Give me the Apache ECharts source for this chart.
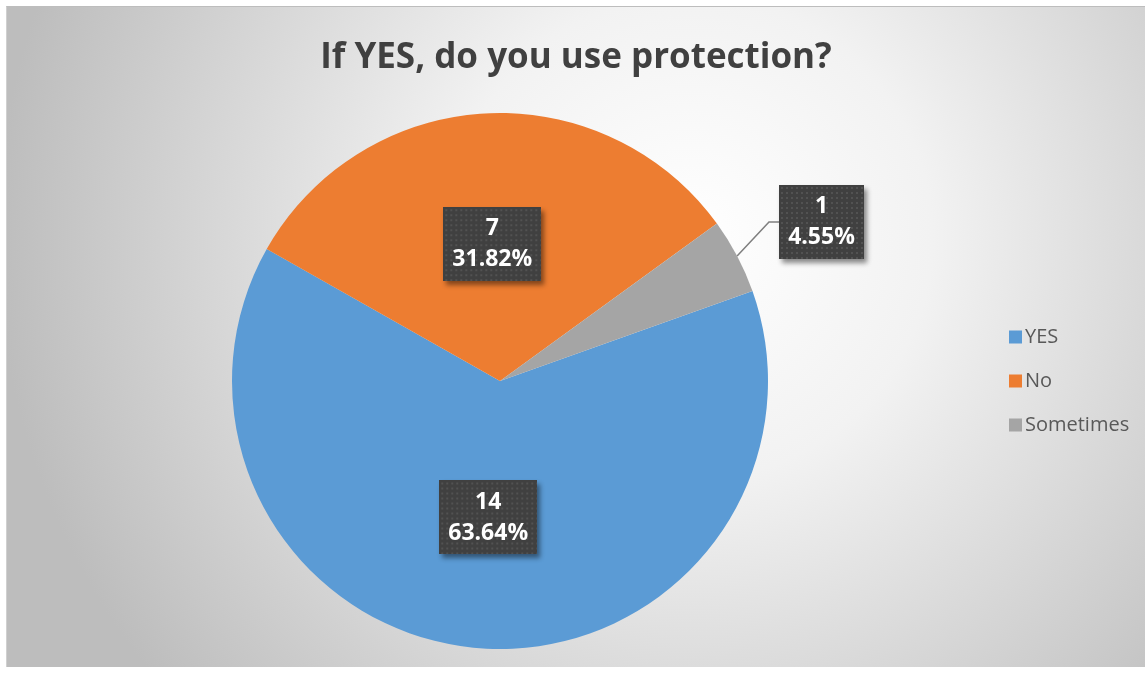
<!DOCTYPE html>
<html>
<head>
<meta charset="utf-8">
<script src="https://cdn.jsdelivr.net/npm/echarts@6/dist/echarts.min.js"></script>
<style>
  html, body { margin: 0; padding: 0; background: #ffffff; width: 1145px; height: 673px; overflow: hidden; }
  #chart { position: absolute; left: 6px; top: 6px; width: 1139px; height: 661px;
           border-top: 1px solid #bdbdbd; border-left: 1px solid #d0d0d0; box-sizing: border-box; }
</style>
</head>
<body>
<div id="chart"></div>
<script>
// Survey answers
const categories = ['YES', 'No', 'Sometimes'];
const counts = [14, 7, 1];
const percents = ['63.64%', '31.82%', '4.55%'];
const sliceColors = ['#5B9BD5', '#ED7D31', '#A5A5A5'];
const titleText = 'If YES, do you use protection?';

const FONT = '"Open Sans", "Noto Sans", sans-serif';

// Dark dotted tile used behind the data labels
function dottedBox(w, h) {
  const c = document.createElement('canvas');
  c.width = w; c.height = h;
  const g = c.getContext('2d');
  g.fillStyle = '#404040';
  g.fillRect(0, 0, w, h);
  g.fillStyle = '#525252';
  for (let y = 2; y < h; y += 5) {
    for (let x = 2; x < w; x += 5) {
      g.fillRect(x, y, 2, 2);
    }
  }
  return c;
}

const padV = 6, padH = 9, lineH = 31;
function labelStyle(textWidth) {
  return {
    padding: [padV, padH],
    backgroundColor: { image: dottedBox(textWidth + padH * 2, lineH * 2 + padV * 2) },
    shadowColor: 'rgba(0,0,0,0.45)',
    shadowBlur: 5,
    shadowOffsetX: 3,
    shadowOffsetY: 4,
    formatter: p => '{v|' + counts[p.dataIndex] + '}\n{v|' + percents[p.dataIndex] + '}',
    rich: {
      v: {
        width: textWidth,
        align: 'center',
        lineHeight: lineH,
        color: '#ffffff',
        fontFamily: FONT,
        fontWeight: 'bold',
        fontSize: 23
      }
    }
  };
}

const seriesData = categories.map((name, i) => {
  const item = { name: name, value: counts[i], itemStyle: { color: sliceColors[i] } };
  if (i === 2) {
    item.label = Object.assign({ position: 'outside' }, labelStyle(67));
    item.labelLine = { show: true, length: 40, length2: 10, lineStyle: { color: '#7f7f7f', width: 1.5 } };
  } else {
    item.label = Object.assign({ position: 'inside' }, labelStyle(80));
    item.labelLine = { show: false };
  }
  return item;
});

const chart = echarts.init(document.getElementById('chart'), null, { renderer: 'canvas' });
chart.setOption({
  animation: false,
  backgroundColor: {
    type: 'radial', x: 0.6, y: 0.35, r: 1.05,
    colorStops: [
      { offset: 0, color: '#ffffff' },
      { offset: 0.35, color: '#f2f2f2' },
      { offset: 1, color: '#bdbdbd' }
    ]
  },
  title: {
    text: titleText,
    left: 'center',
    top: 29,
    textStyle: { fontFamily: FONT, fontSize: 35, fontWeight: 'bold', color: '#404040' }
  },
  legend: {
    orient: 'vertical',
    left: 997,
    top: 311,
    itemWidth: 13,
    itemHeight: 13,
    itemGap: 16,
    icon: 'rect',
    textStyle: { fontFamily: FONT, fontSize: 20, color: '#595959', padding: [0, 0, 0, -2], lineHeight: 28 },
    data: categories
  },
  series: [{
    type: 'pie',
    center: [493, 374],
    radius: [0, 268],
    startAngle: 19.6,
    clockwise: true,
    avoidLabelOverlap: false,
    emphasis: { disabled: true },
    data: seriesData,
    labelLayout: function (params) {
      // pull the small slice's callout up and to the right, like a dragged label
      if (params.dataIndex === 2) {
        return { x: 772, y: 215, align: 'left', verticalAlign: 'middle' };
      }
      return {};
    }
  }]
});
</script>
</body>
</html>
